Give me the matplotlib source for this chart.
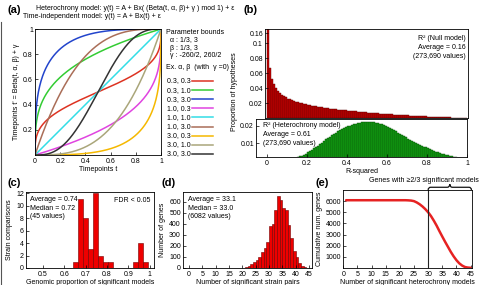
import math
import numpy as np
import matplotlib
matplotlib.use("Agg")
import matplotlib.pyplot as plt
from matplotlib.path import Path
from matplotlib.patches import PathPatch
from matplotlib.lines import Line2D
import matplotlib.transforms as mtransforms

plt.rcParams['font.family'] = ['Liberation Sans', 'DejaVu Sans']
plt.rcParams['font.size'] = 5
plt.rcParams['axes.linewidth'] = 0.6
plt.rcParams['xtick.direction'] = 'in'
plt.rcParams['ytick.direction'] = 'in'
plt.rcParams['xtick.major.size'] = 2
plt.rcParams['ytick.major.size'] = 2
plt.rcParams['xtick.major.width'] = 0.5
plt.rcParams['ytick.major.width'] = 0.5
plt.rcParams['xtick.major.pad'] = 2
plt.rcParams['ytick.major.pad'] = 1.5

# ---------------- data ----------------
# (a) Beta-warp examples
a_alpha = [0.3, 0.3, 0.3, 1.0, 1.0, 1.0, 3.0, 3.0, 3.0]
a_beta = [0.3, 1.0, 3.0, 0.3, 1.0, 3.0, 0.3, 1.0, 3.0]
a_labels = ["0.3, 0.3", "0.3, 1.0", "0.3, 3.0", "1.0, 0.3", "1.0, 1.0",
            "1.0, 3.0", "3.0, 0.3", "3.0, 1.0", "3.0, 3.0"]
a_colors = ["#dd3322", "#33cc33", "#2244cc", "#e044e0", "#33dde6",
            "#aa6e58", "#f5b800", "#aaa67a", "#333333"]

# (b) R-squared histograms (proportion per 0.01 bin)
b_null = [0.17, 0.067, 0.052, 0.045, 0.040, 0.036, 0.033, 0.031, 0.029, 0.0275,
          0.026, 0.0248, 0.0237, 0.0227, 0.0218, 0.021, 0.0202, 0.0195, 0.0188, 0.0181,
          0.0175, 0.0169, 0.0164, 0.0159, 0.0154, 0.015, 0.0146, 0.0142, 0.0138, 0.0134,
          0.013, 0.0126, 0.0123, 0.012, 0.0117, 0.0113, 0.011, 0.0107, 0.0104, 0.0101,
          0.0098, 0.0095, 0.0093, 0.009, 0.0088, 0.0085, 0.0083, 0.008, 0.0078, 0.0075,
          0.0072, 0.007, 0.0068, 0.0066, 0.0064, 0.0062, 0.006, 0.0058, 0.0056, 0.0054,
          0.0052, 0.005, 0.0048, 0.0046, 0.0044, 0.0043, 0.0041, 0.0039, 0.0038, 0.0036,
          0.0035, 0.0033, 0.0032, 0.003, 0.0029, 0.0027, 0.0026, 0.0025, 0.0023, 0.0022,
          0.002, 0.0019, 0.0018, 0.0016, 0.0015, 0.0014, 0.0012, 0.0011, 0.001, 0.0009,
          0.0008, 0.0007, 0.0006, 0.0005, 0.0004, 0.0003, 0.0002, 0.0001, 0.0, 0.0]
b_het = [0, 0, 0, 0, 0, 0, 0, 0, 0.0002, 0.0003,
         0.0005, 0.0006, 0.0008, 0.0010, 0.0013, 0.0017, 0.0021, 0.0026, 0.0032, 0.0038,
         0.0045, 0.0053, 0.0061, 0.0069, 0.0077, 0.0085, 0.0094, 0.0103, 0.0112, 0.0121,
         0.0130, 0.0138, 0.0146, 0.0154, 0.0161, 0.0168, 0.0175, 0.0181, 0.0187, 0.0192,
         0.0197, 0.0202, 0.0206, 0.0210, 0.0213, 0.0216, 0.0219, 0.0221, 0.0223, 0.0224,
         0.0225, 0.0225, 0.0224, 0.0222, 0.0220, 0.0217, 0.0213, 0.0209, 0.0204, 0.0199,
         0.0193, 0.0187, 0.0181, 0.0175, 0.0168, 0.0161, 0.0154, 0.0147, 0.0140, 0.0133,
         0.0126, 0.0119, 0.0113, 0.0107, 0.0101, 0.0095, 0.0089, 0.0084, 0.0079, 0.0074,
         0.0069, 0.0064, 0.0059, 0.0055, 0.0050, 0.0046, 0.0042, 0.0038, 0.0034, 0.0031,
         0.0028, 0.0025, 0.0022, 0.0019, 0.0016, 0.0013, 0.0010, 0.0008, 0.0005, 0.0003]
b_top_ticks = [0.02, 0.04, 0.06, 0.08, 0.10, 0.1133]
b_top_ticklabels = ["0.02", "0.04", "0.06", "0.08", "0.1", "0.16"]

# (c) genomic proportion of significant models
c_counts = [1, 11, 8, 3, 12, 2, 1, 1, 0, 0, 0, 0, 1, 4, 1]
c_edges = np.linspace(0.641, 0.9935, 16)

# (d) number of significant strain pairs per gene
d_pairs = list(range(20, 44))
d_counts = [3, 10, 18, 34, 50, 70, 100, 145, 180, 235, 380, 395, 530, 650, 615,
            545, 525, 390, 270, 150, 100, 48, 20, 8]

# (e) cumulative number of genes
e_x = list(range(1, 46))
e_y = [6082] * 22 + [6070, 6050, 6000, 5880, 5720, 5520, 5280, 5000, 4660, 4250,
                     3800, 3300, 2820, 2350, 1900, 1450, 1050, 700, 420, 220,
                     90, 40, 20]


def _betacf(a, b, x):
    qab, qap, qam = a + b, a + 1.0, a - 1.0
    c, d = 1.0, 1.0 - qab * x / qap
    d = 1.0 / (d if abs(d) > 1e-30 else 1e-30)
    h = d
    for m in range(1, 300):
        m2 = 2 * m
        aa = m * (b - m) * x / ((qam + m2) * (a + m2))
        d = 1.0 + aa * d
        d = 1.0 / (d if abs(d) > 1e-30 else 1e-30)
        c = 1.0 + aa / c
        c = c if abs(c) > 1e-30 else 1e-30
        h *= d * c
        aa = -(a + m) * (qab + m) * x / ((a + m2) * (qap + m2))
        d = 1.0 + aa * d
        d = 1.0 / (d if abs(d) > 1e-30 else 1e-30)
        c = 1.0 + aa / c
        c = c if abs(c) > 1e-30 else 1e-30
        de = d * c
        h *= de
        if abs(de - 1.0) < 1e-12:
            break
    return h


def betainc(a, b, x):
    if x <= 0:
        return 0.0
    if x >= 1:
        return 1.0
    bt = math.exp(math.lgamma(a + b) - math.lgamma(a) - math.lgamma(b)
                  + a * math.log(x) + b * math.log(1 - x))
    if x < (a + 1) / (a + b + 2):
        return bt * _betacf(a, b, x) / a
    return 1.0 - bt * _betacf(b, a, 1 - x) / b


W, H = 482, 285
fig = plt.figure(figsize=(W / 100, H / 100), dpi=100)


def box(l, t, r, b):
    return [l / W, 1 - b / H, (r - l) / W, (b - t) / H]


def ftext(x, y, s, **kw):
    fig.text(x / W, 1 - y / H, s, **kw)


def fline(xs, ys, **kw):
    fig.add_artist(Line2D([v / W for v in xs], [1 - v / H for v in ys],
                          transform=fig.transFigure, **kw))


# left frame edge seen in the reference
fline([0.6, 0.6], [22, 285], color="#555555", lw=0.8)

# ---------------- (a) ----------------
ax = fig.add_axes(box(35, 29, 161, 155))
t = np.linspace(0, 1, 400)
for al, be, col in zip(a_alpha, a_beta, a_colors):
    ax.plot(t, [betainc(al, be, v) for v in t], color=col, lw=1.1)
ax.set_xlim(0, 1)
ax.set_ylim(0, 1)
ax.set_xticks([0, 0.2, 0.4, 0.6, 0.8, 1])
ax.set_xticklabels(["0", "0.2", "0.4", "0.6", "0.8", "1"])
ax.set_yticks([0.2, 0.4, 0.6, 0.8, 1])
ax.set_yticklabels(["0.2", "0.4", "0.6", "0.8", "1"])
ax.set_xlabel("Timepoints t", labelpad=1)
ax.set_ylabel("Timepoints t' = Beta(t, α, β) + γ", labelpad=2)
# legend drawn as text + sample lines
for i, (lab, col) in enumerate(zip(a_labels, a_colors)):
    yy = 81 + 9.1 * i
    ftext(167, yy, lab, va="center")
    fline([192, 213], [yy, yy], color=col, lw=1.1)
ftext(8, 10, "(a)", fontsize=8, fontweight="bold", va="center")
ftext(135, 8, "Heterochrony model: y(t) = A + Bx( (Beta(t, α, β)+ γ ) mod 1) + ε",
      ha="center", va="center")
ftext(23, 16, "Time-independent model: y(t) = A + Bx(t) + ε", ha="left", va="center")
ftext(166, 32, "Parameter bounds", va="center")
ftext(170, 40, "α : 1/3, 3", va="center")
ftext(170, 48, "β : 1/3, 3", va="center")
ftext(170, 56, "γ : -260/2, 260/2", va="center")
ftext(166, 67, "Ex. α, β  (with  γ =0)", va="center")

# ---------------- (b) ----------------
edges = np.linspace(0, 1, 101)
axt = fig.add_axes(box(265, 29, 468, 118))
axt.bar(edges[:-1], b_null, width=0.01, align="edge", color="#c40000",
        edgecolor="#5a0000", linewidth=0.3)
axt.set_xlim(-0.01, 1.005)
axt.set_ylim(0, 0.1187)
axt.set_xticks([])
axt.set_yticks(b_top_ticks)
axt.set_yticklabels(b_top_ticklabels)
axt.text(0.99, 0.93, "R² (Null model)\nAverage = 0.16\n(273,690 values)",
         transform=axt.transAxes, ha="right", va="top", linespacing=1.35)

axb = fig.add_axes(box(256, 119, 467, 157))
axb.bar(edges[:-1], b_het, width=0.01, align="edge", color="#12a012",
        edgecolor="#064a06", linewidth=0.3)
axb.set_xlim(-0.055, 1.0)
axb.set_ylim(0.0018, 0.0241)
axb.set_xticks([0, 0.2, 0.4, 0.6, 0.8, 1])
axb.set_xticklabels(["0", "0.2", "0.4", "0.6", "0.8", "1"])
axb.set_yticks([0.01, 0.02])
axb.set_yticklabels(["0.01", "0.02"])
axb.set_xlabel("R-squared", labelpad=1)
axb.text(0.035, 0.92, "R² (Heterochrony model)\nAverage = 0.61\n(273,690 values)",
         transform=axb.transAxes, ha="left", va="top", linespacing=1.35)
ftext(243, 10, "(b)", fontsize=8, fontweight="bold", va="center")
ftext(234, 92, "Proportion of hypotheses", rotation=90, ha="center", va="center")

# ---------------- (c) ----------------
axc = fig.add_axes(box(26, 192, 154, 268))
axc.bar(c_edges[:-1], c_counts, width=np.diff(c_edges), align="edge",
        color="#ee0000", edgecolor="#700000", linewidth=0.4)
axc.set_xlim(0.42, 1.02)
axc.set_ylim(0, 12.2)
axc.set_xticks([0.5, 0.6, 0.7, 0.8, 0.9, 1.0])
axc.set_xticklabels(["0.5", "0.6", "0.7", "0.8", "0.9", "1"])
axc.set_yticks([0, 2, 4, 6, 8, 10, 12])
axc.set_xlabel("Genomic proportion of significant models", labelpad=1)
axc.set_ylabel("Strain comparisons", labelpad=2)
axc.text(0.03, 0.95, "Average = 0.74\nMedian = 0.72\n(45 values)",
         transform=axc.transAxes, ha="left", va="top", linespacing=1.35)
axc.text(0.97, 0.93, "FDR < 0.05", transform=axc.transAxes, ha="right", va="top")
ftext(7, 183, "(c)", fontsize=8, fontweight="bold", va="center")

# ---------------- (d) ----------------
axd = fig.add_axes(box(183, 192, 312, 268))
axd.bar(np.array(d_pairs), d_counts, width=1.0, align="edge",
        color="#ee0000", edgecolor="#700000", linewidth=0.4)
axd.set_xlim(-2.25, 46.1)
axd.set_ylim(0, 690)
axd.set_xticks(list(range(0, 50, 5)))
axd.set_yticks(list(range(0, 700, 100)))
axd.set_xlabel("Number of significant strain pairs", labelpad=1)
axd.set_ylabel("Number of genes", labelpad=2)
axd.text(0.04, 0.95, "Average = 33.1\nMedian = 33.0\n(6082 values)",
         transform=axd.transAxes, ha="left", va="top", linespacing=1.35)
ftext(162, 183, "(d)", fontsize=8, fontweight="bold", va="center")

# ---------------- (e) ----------------
axe = fig.add_axes(box(343, 190, 472, 268))
axe.plot(e_x, e_y, color="#e62222", lw=1.8, solid_capstyle="round")
axe.axvline(30, color="#222222", lw=0.8)
axe.set_xlim(-0.1, 45.5)
axe.set_ylim(0, 7000)
axe.set_xticks(list(range(0, 50, 5)))
axe.set_yticks([1000, 2000, 3000, 4000, 5000, 6000])
axe.set_xlabel("Number of significant heterochrony models", labelpad=1)
axe.set_ylabel("Cumulative num. genes", labelpad=2)
trans = mtransforms.blended_transform_factory(axe.transData, axe.transAxes)
x0, x1 = 30, 45.3
xm = (x0 + x1) / 2
d = 0.9
y0, y1, y2 = 1.0, 1.035, 1.075
verts = [(x0, y0), (x0, y1), (x0 + d, y1), (xm - d, y1), (xm, y1), (xm, y2),
         (xm, y1), (xm + d, y1), (x1 - d, y1), (x1, y1), (x1, y0)]
codes = [Path.MOVETO, Path.CURVE3, Path.CURVE3, Path.LINETO, Path.CURVE3, Path.CURVE3,
         Path.CURVE3, Path.CURVE3, Path.LINETO, Path.CURVE3, Path.CURVE3]
axe.add_patch(PathPatch(Path(verts, codes), transform=trans, fill=False,
                        lw=0.9, color="#111111", clip_on=False))
ftext(424, 181, "Genes with ≥2/3 significant models", ha="center", va="center")
ftext(315, 183, "(e)", fontsize=8, fontweight="bold", va="center")

fig.savefig("out.png", dpi=100)
